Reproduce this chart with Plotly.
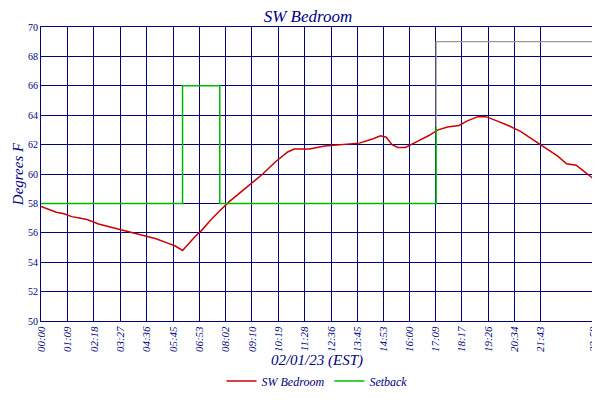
import plotly.graph_objects as go

temp_min = [0, 20, 40, 60, 80, 100, 120, 150, 180, 210, 240, 270, 300, 330, 350, 369,
            385, 400, 420, 440, 466, 490, 513, 540, 578, 610, 643, 660, 700, 740, 780,
            800, 830, 866, 885, 900, 915, 930, 950, 980, 1010, 1035, 1060, 1090, 1110,
            1139, 1160, 1190, 1218, 1250, 1296, 1320, 1348, 1370, 1395, 1415, 1439]
temp_val = [57.8, 57.6, 57.4, 57.3, 57.1, 57.0, 56.9, 56.6, 56.4, 56.2, 56.0, 55.8, 55.6, 55.3, 55.1, 54.8,
            55.3, 55.7, 56.2, 56.8, 57.5, 58.1, 58.6, 59.2, 60.0, 60.8, 61.5, 61.7, 61.7, 61.9, 62.0,
            62.0, 62.1, 62.4, 62.6, 62.5, 62.0, 61.8, 61.8, 62.2, 62.6, 63.0, 63.2, 63.3, 63.6,
            63.9, 63.9, 63.6, 63.3, 62.9, 62.1, 61.7, 61.2, 60.7, 60.6, 60.2, 59.7]

setback_min = [0, 369, 466, 1030, 1030]
setback_val = [58, 66, 58, 63.2, 63.2]
setback_hi_min = [1030, 1439]
setback_hi_val = [69, 69]

tick_vals = [0, 69, 138, 207, 276, 345, 413, 482, 550, 619, 688, 756, 825, 893, 960, 1029, 1097, 1166, 1234, 1303, 1439]
tick_text = ["00:00", "01:09", "02:18", "03:27", "04:36", "05:45", "06:53", "08:02", "09:10", "10:19",
             "11:28", "12:36", "13:45", "14:53", "16:00", "17:09", "18:17", "19:26", "20:34", "21:43", "23:59"]

navy = "#000080"
font = "Liberation Serif"

fig = go.Figure()
fig.add_trace(go.Scatter(x=temp_min, y=temp_val, name="<i>SW Bedroom</i>", mode="lines",
                         line=dict(color="#cc0000", width=1.5)))
fig.add_trace(go.Scatter(x=setback_min, y=setback_val, name="<i>Setback</i>", mode="lines",
                         line=dict(color="#00bb00", width=1.5, shape="hv")))
fig.add_trace(go.Scatter(x=[1030] + setback_hi_min, y=[63.2] + setback_hi_val, mode="lines",
                         showlegend=False, line=dict(color="#999999", width=1.2)))
fig.add_trace(go.Scatter(x=[0], y=[50], yaxis="y2", mode="markers", showlegend=False,
                         marker=dict(opacity=0), hoverinfo="skip"))

fig.update_layout(
    width=600, height=400,
    margin=dict(l=33, r=15, t=19, b=67),
    paper_bgcolor="white", plot_bgcolor="white",
    title=dict(text="<i>SW Bedroom</i>", x=0.5, y=0.995, xanchor="center", yanchor="top",
               font=dict(family=font, size=17, color=navy)),
    font=dict(family=font, color=navy, size=10),
    xaxis=dict(range=[0, 1439], tickvals=tick_vals, ticktext=["<i>%s</i>" % t for t in tick_text],
               tickangle=-90, showgrid=True, gridcolor=navy, gridwidth=1, automargin=False,
               showline=True, linecolor=navy, mirror=True, zeroline=False, tickfont=dict(size=11),
               title=dict(text="<i>02/01/23 (EST)</i>", font=dict(size=15), standoff=2)),
    yaxis=dict(range=[50, 70], dtick=2, showgrid=True, gridcolor=navy, gridwidth=1, automargin=False,
               showline=True, linecolor=navy, mirror=True, zeroline=False,
               tickfont=dict(size=10), ticklabelstandoff=0,
               title=dict(text="<i>Degrees F</i>", font=dict(size=15), standoff=0)),
    yaxis2=dict(range=[50, 70], dtick=2, overlaying="y", side="right", showgrid=False, automargin=False,
                zeroline=False, tickfont=dict(size=10), ticklabelstandoff=0),
    legend=dict(orientation="h", x=0.5, xanchor="center", y=-0.2, yanchor="top",
                font=dict(size=12), itemwidth=30, yref="paper"),
    showlegend=True,
)
fig.update_layout(legend=dict(y=-0.155))
fig.write_html("out.html")
